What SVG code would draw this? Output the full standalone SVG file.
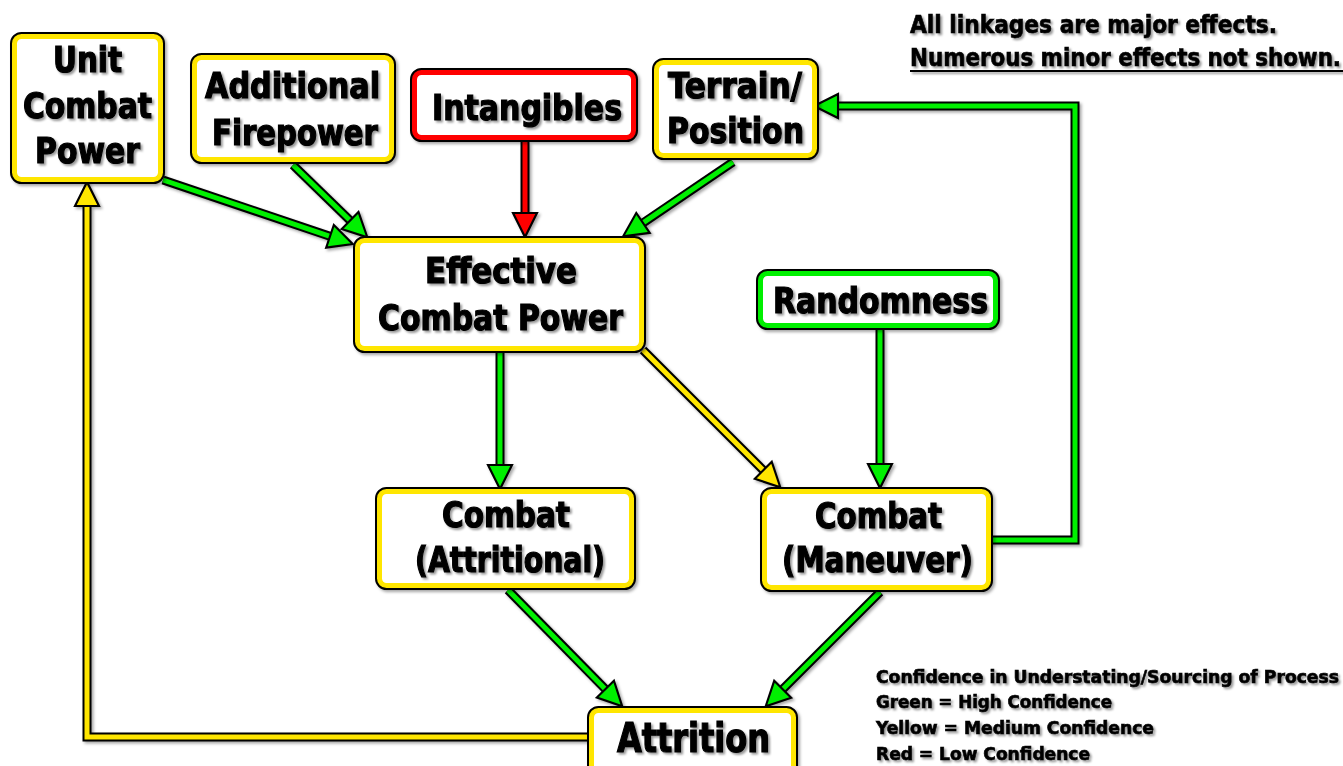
<svg xmlns="http://www.w3.org/2000/svg" width="1343" height="766" viewBox="0 0 1343 766">
<style>
.bo{fill:none;stroke:#000;stroke-width:9}
.bg{fill:#fff;stroke:#ffe600;stroke-width:5}
.bgr{fill:#fff;stroke:#00f000;stroke-width:5}
.bgd{fill:#fff;stroke:#ff0000;stroke-width:5}
.so{fill:none;stroke:#000;stroke-width:9;stroke-linejoin:miter}
.sg{fill:none;stroke:#00f000;stroke-width:5;stroke-linejoin:miter;marker-end:url(#mg)}
.sy{fill:none;stroke:#ffe600;stroke-width:5;stroke-linejoin:miter;marker-end:url(#my)}
.sr{fill:none;stroke:#ff0000;stroke-width:5;stroke-linejoin:miter;marker-end:url(#mr)}
.t{font-family:"Liberation Sans Narrow","DejaVu Sans Condensed","Liberation Sans",sans-serif;font-weight:bold;font-size:36px;text-anchor:middle;fill:#000;stroke:#000;stroke-width:1.2}
.n{font-family:"Liberation Sans Narrow","DejaVu Sans Condensed","Liberation Sans",sans-serif;font-weight:bold;fill:#000;stroke:#000;stroke-width:0.6}
</style>
<defs>
<filter id="sh" x="-10%" y="-10%" width="130%" height="130%">
<feDropShadow dx="2" dy="2" stdDeviation="1.5" flood-color="#000" flood-opacity="0.35"/>
</filter>
<filter id="tsh" x="-10%" y="-20%" width="130%" height="150%">
<feDropShadow dx="2" dy="2" stdDeviation="1" flood-color="#000" flood-opacity="0.4"/>
</filter>
<marker id="mg" markerUnits="userSpaceOnUse" orient="auto" refX="0" refY="0" markerWidth="40" markerHeight="40" viewBox="-5 -15 30 30" overflow="visible">
<path d="M0,-9 L18,0 L0,9 Z" fill="#00f000" stroke="#000" stroke-width="1.6"/>
</marker>
<marker id="my" markerUnits="userSpaceOnUse" orient="auto" refX="0" refY="0" markerWidth="40" markerHeight="40" viewBox="-5 -15 30 30" overflow="visible">
<path d="M0,-9 L18,0 L0,9 Z" fill="#ffe600" stroke="#000" stroke-width="1.6"/>
</marker>
<marker id="mr" markerUnits="userSpaceOnUse" orient="auto" refX="0" refY="0" markerWidth="40" markerHeight="40" viewBox="-5 -15 30 30" overflow="visible">
<path d="M0,-9 L18,0 L0,9 Z" fill="#ff0000" stroke="#000" stroke-width="1.6"/>
</marker>
</defs>
<rect width="1343" height="766" fill="#fff"/>

<g id="connectors" filter="url(#sh)">
<path class="so" d="M163,180 L330,236.3"/><path class="sg" d="M163,180 L330,236.3"/>
<path class="so" d="M293,165 L350.1,220.5"/><path class="sg" d="M293,165 L350.1,220.5"/>
<path class="so" d="M525,142 L525,213"/><path class="sr" d="M525,142 L525,213"/>
<path class="so" d="M733,162 L643,222.9"/><path class="sg" d="M733,162 L643,222.9"/>
<path class="so" d="M500,353 L500,465"/><path class="sg" d="M500,353 L500,465"/>
<path class="so" d="M643,350 L763.3,470.3"/><path class="sy" d="M643,350 L763.3,470.3"/>
<path class="so" d="M880,330 L880,464"/><path class="sg" d="M880,330 L880,464"/>
<path class="so" d="M990,540 H1075 V106 H838"/><path class="sg" d="M990,540 H1075 V106 H838"/>
<path class="so" d="M508,590 L605.4,689.2"/><path class="sg" d="M508,590 L605.4,689.2"/>
<path class="so" d="M880,592 L782.7,689.3"/><path class="sg" d="M880,592 L782.7,689.3"/>
<path class="so" d="M592,737 H87 V206"/><path class="sy" d="M592,737 H87 V206"/>
</g>

<g id="unit-combat-power">
<g filter="url(#sh)"><rect class="bo" x="14.5" y="36.5" width="146" height="143" rx="7"/><rect class="bg" x="14.5" y="36.5" width="146" height="143" rx="7"/></g>
<g filter="url(#tsh)">
<text class="t" x="87.5" y="72" textLength="69" lengthAdjust="spacingAndGlyphs">Unit</text>
<text class="t" x="87.5" y="118" textLength="129" lengthAdjust="spacingAndGlyphs">Combat</text>
<text class="t" x="87.5" y="163" textLength="105" lengthAdjust="spacingAndGlyphs">Power</text>
</g>
</g>

<g id="additional-firepower">
<g filter="url(#sh)"><rect class="bo" x="194.5" y="57.5" width="197" height="102" rx="7"/><rect class="bg" x="194.5" y="57.5" width="197" height="102" rx="7"/></g>
<g filter="url(#tsh)">
<text class="t" x="292.5" y="98" textLength="175" lengthAdjust="spacingAndGlyphs">Additional</text>
<text class="t" x="295" y="145" textLength="166" lengthAdjust="spacingAndGlyphs">Firepower</text>
</g>
</g>

<g id="intangibles">
<g filter="url(#sh)"><rect class="bo" x="414.5" y="72.5" width="219" height="65" rx="7"/><rect class="bgd" x="414.5" y="72.5" width="219" height="65" rx="7"/></g>
<g filter="url(#tsh)">
<text class="t" x="527" y="120" textLength="190" lengthAdjust="spacingAndGlyphs">Intangibles</text>
</g>
</g>

<g id="terrain-position">
<g filter="url(#sh)"><rect class="bo" x="656.5" y="62.5" width="158" height="93" rx="7"/><rect class="bg" x="656.5" y="62.5" width="158" height="93" rx="7"/></g>
<g filter="url(#tsh)">
<text class="t" x="735" y="98" textLength="134" lengthAdjust="spacingAndGlyphs">Terrain/</text>
<text class="t" x="735.5" y="143" textLength="137" lengthAdjust="spacingAndGlyphs">Position</text>
</g>
</g>

<g id="effective-combat-power">
<g filter="url(#sh)"><rect class="bo" x="357.5" y="240.5" width="284" height="108" rx="7"/><rect class="bg" x="357.5" y="240.5" width="284" height="108" rx="7"/></g>
<g filter="url(#tsh)">
<text class="t" x="501" y="283" textLength="152" lengthAdjust="spacingAndGlyphs">Effective</text>
<text class="t" x="500.5" y="330" textLength="245" lengthAdjust="spacingAndGlyphs">Combat Power</text>
</g>
</g>

<g id="randomness">
<g filter="url(#sh)"><rect class="bo" x="760.5" y="273.5" width="235" height="52" rx="7"/><rect class="bgr" x="760.5" y="273.5" width="235" height="52" rx="7"/></g>
<g filter="url(#tsh)">
<text class="t" x="880.5" y="313" textLength="215" lengthAdjust="spacingAndGlyphs">Randomness</text>
</g>
</g>

<g id="combat-attritional">
<g filter="url(#sh)"><rect class="bo" x="379.5" y="491.5" width="252" height="94" rx="7"/><rect class="bg" x="379.5" y="491.5" width="252" height="94" rx="7"/></g>
<g filter="url(#tsh)">
<text class="t" x="506" y="527" textLength="128" lengthAdjust="spacingAndGlyphs">Combat</text>
<text class="t" x="510" y="572" textLength="190" lengthAdjust="spacingAndGlyphs">(Attritional)</text>
</g>
</g>

<g id="combat-maneuver">
<g filter="url(#sh)"><rect class="bo" x="764.5" y="491.5" width="224" height="96" rx="7"/><rect class="bg" x="764.5" y="491.5" width="224" height="96" rx="7"/></g>
<g filter="url(#tsh)">
<text class="t" x="878.5" y="528" textLength="127" lengthAdjust="spacingAndGlyphs">Combat</text>
<text class="t" x="877.5" y="572" textLength="191" lengthAdjust="spacingAndGlyphs">(Maneuver)</text>
</g>
</g>

<g id="attrition">
<g filter="url(#sh)"><rect class="bo" x="591.5" y="710.5" width="202" height="64" rx="7"/><rect class="bg" x="591.5" y="710.5" width="202" height="64" rx="7"/></g>
<g filter="url(#tsh)">
<text class="t" x="693.5" y="752" style="font-size:40px" textLength="153" lengthAdjust="spacingAndGlyphs">Attrition</text>
</g>
</g>

<g id="note" filter="url(#tsh)">
<text class="n" x="910" y="33" style="font-size:24px" textLength="367" lengthAdjust="spacingAndGlyphs">All linkages are major effects.</text>
<text class="n" x="910" y="66" style="font-size:24px" textLength="431" lengthAdjust="spacingAndGlyphs">Numerous minor effects not shown.</text>
<line x1="910" y1="71" x2="1343" y2="71" stroke="#000" stroke-width="2"/>
</g>

<g id="legend" filter="url(#tsh)">
<text class="n" x="876" y="683" style="font-size:18px" textLength="463" lengthAdjust="spacingAndGlyphs">Confidence in Understating/Sourcing of Process</text>
<text class="n" x="876" y="708" style="font-size:18px" textLength="236" lengthAdjust="spacingAndGlyphs">Green = High Confidence</text>
<text class="n" x="876" y="734" style="font-size:18px" textLength="278" lengthAdjust="spacingAndGlyphs">Yellow = Medium Confidence</text>
<text class="n" x="876" y="760" style="font-size:18px" textLength="214" lengthAdjust="spacingAndGlyphs">Red = Low Confidence</text>
</g>
</svg>
